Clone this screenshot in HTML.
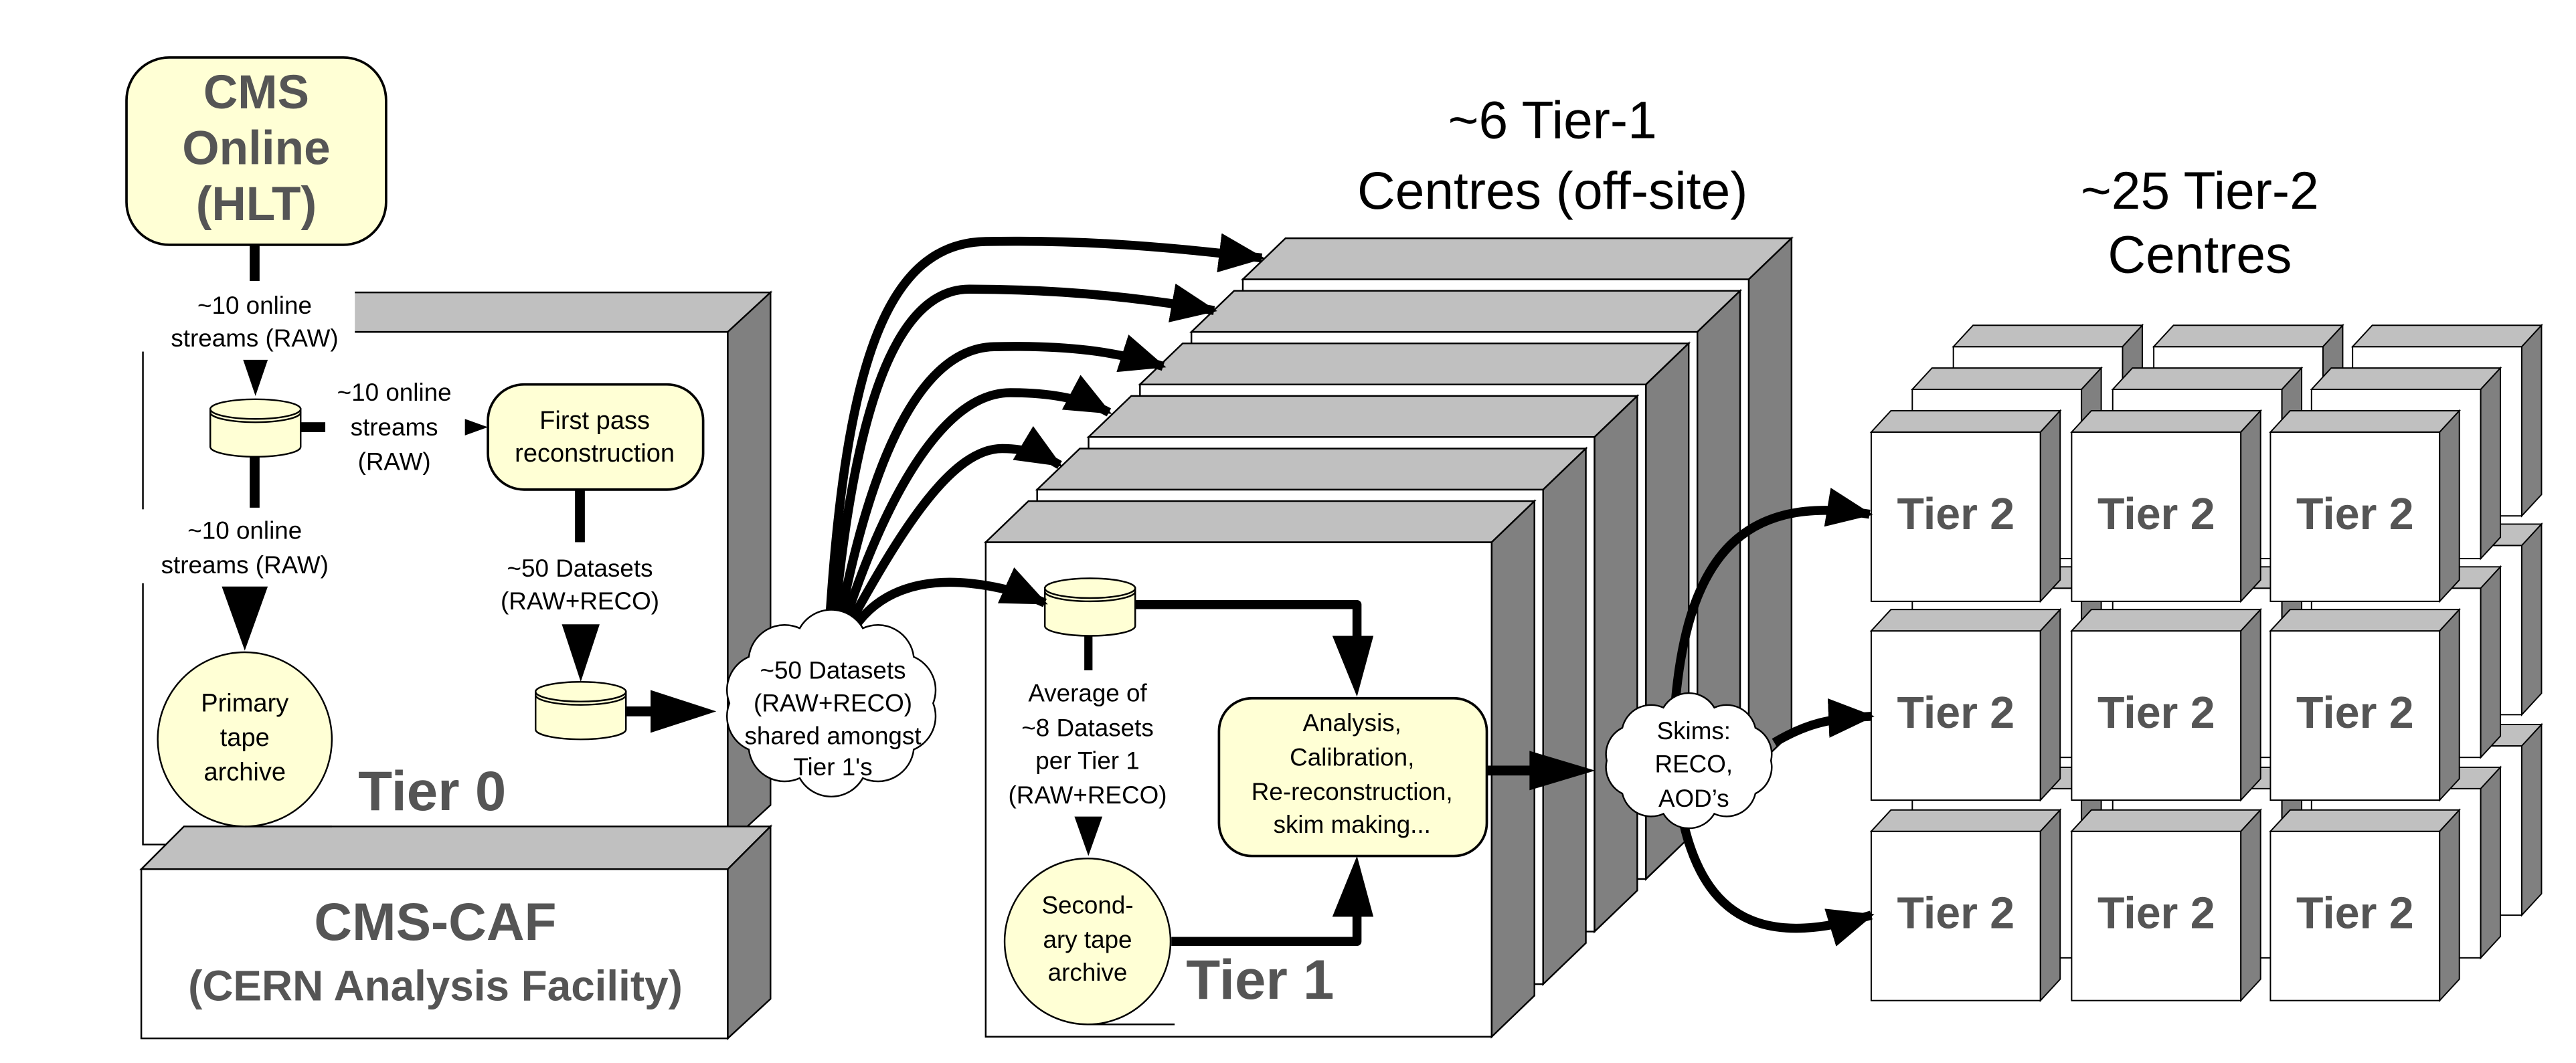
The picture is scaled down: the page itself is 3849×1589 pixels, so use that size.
<!DOCTYPE html>
<html><head><meta charset="utf-8"><style>
html,body{margin:0;padding:0;background:#fff;}
svg{display:block;}
text{font-family:"Liberation Sans",Arial,sans-serif;}
</style></head><body>
<svg xmlns="http://www.w3.org/2000/svg" xmlns:xlink="http://www.w3.org/1999/xlink" width="3849" height="1589" viewBox="0 0 1568 647" preserveAspectRatio="none">
<defs>
<marker id="ah" markerUnits="userSpaceOnUse" markerWidth="30" markerHeight="24" refX="26" refY="12" orient="auto">
<path d="M0,0 L28,12 L0,24 z" fill="#000"/>
</marker>
<g id="t1box" stroke="#000" stroke-width="1">
<rect x="0" y="0" width="308" height="301" fill="#fff"/>
<polygon points="0,0 26,-25 334,-25 308,0" fill="#c0c0c0"/>
<polygon points="308,0 334,-25 334,276 308,301" fill="#808080"/>
</g>
<g id="t2" stroke="#000" stroke-width="0.8">
<rect x="0" y="0" width="103" height="103" fill="#fff"/>
<polygon points="0,0 12,-13 115,-13 103,0" fill="#c0c0c0"/>
<polygon points="103,0 115,-13 115,90 103,103" fill="#808080"/>
</g>
<g id="t2l" stroke="#000" stroke-width="0.8">
<rect x="0" y="0" width="103" height="103" fill="#fff"/>
<polygon points="0,0 12,-13 115,-13 103,0" fill="#c0c0c0"/>
<polygon points="103,0 115,-13 115,90 103,103" fill="#808080"/>
<text x="51.5" y="59" font-size="27" font-weight="bold" fill="#555" text-anchor="middle" stroke="none">Tier 2</text>
</g>
<g id="cyl" stroke="#000" stroke-width="1" fill="#ffffd5">
<path d="M0,6 L0,29 A27.5,6 0 0 0 55,29 L55,6 z"/>
<ellipse cx="27.5" cy="6" rx="27.5" ry="6"/>
<path d="M0,8 A27.5,6 0 0 0 55,8" fill="none"/>
</g>
</defs>

<!-- Tier 0 cube -->
<g stroke="#000" stroke-width="1">
<rect x="87" y="202" width="356" height="312" fill="#fff"/>
<polygon points="87,202 113,178 469,178 443,202" fill="#c0c0c0"/>
<polygon points="443,202 469,178 469,490 443,514" fill="#808080"/>
<rect x="86" y="529" width="357" height="103" fill="#fff"/>
<polygon points="86,529 112,503 469,503 443,529" fill="#c0c0c0"/>
<polygon points="443,529 469,503 469,608 443,632" fill="#808080"/>
</g>
<rect x="80" y="172" width="136" height="42" fill="#fff"/>
<rect x="84" y="310" width="125" height="45" fill="#fff"/>

<!-- CMS Online -->
<rect x="77" y="35" width="158" height="114" rx="26" ry="26" fill="#ffffd5" stroke="#000" stroke-width="1.5"/>
<g font-weight="bold" fill="#555" text-anchor="middle" font-size="29">
<text x="156" y="66">CMS</text>
<text x="156" y="100">Online</text>
<text x="156" y="134">(HLT)</text>
</g>
<rect x="152" y="149" width="6" height="22" fill="#000"/>
<g font-size="15" text-anchor="middle" fill="#000">
<text x="155" y="191">~10 online</text>
<text x="155" y="211">streams (RAW)</text>
</g>
<polygon points="148,219 163,219 155.5,241" fill="#000"/>
<use xlink:href="#cyl" x="128" y="243"/>
<rect x="183" y="257" width="15" height="6" fill="#000"/>
<g font-size="15" text-anchor="middle">
<text x="240" y="244">~10 online</text>
<text x="240" y="265">streams</text>
<text x="240" y="286">(RAW)</text>
</g>
<polygon points="283,255 297,260 283,265" fill="#000"/>
<rect x="297" y="234" width="131" height="64" rx="22" ry="22" fill="#ffffd5" stroke="#000" stroke-width="1.5"/>
<g font-size="15.5" text-anchor="middle">
<text x="362" y="261">First pass</text>
<text x="362" y="281">reconstruction</text>
</g>
<rect x="350" y="298" width="6" height="32" fill="#000"/>
<g font-size="15" text-anchor="middle">
<text x="353" y="351">~50 Datasets</text>
<text x="353" y="371">(RAW+RECO)</text>
</g>
<polygon points="342,380 365,380 353.5,415" fill="#000"/>
<use xlink:href="#cyl" x="326" y="415"/>
<rect x="381" y="430" width="16" height="6" fill="#000"/>
<polygon points="396,420 436,433 396,446" fill="#000"/>
<rect x="152" y="278" width="6" height="31" fill="#000"/>
<g font-size="15" text-anchor="middle">
<text x="149" y="328">~10 online</text>
<text x="149" y="349">streams (RAW)</text>
</g>
<polygon points="135,357 163,357 149,396" fill="#000"/>
<circle cx="149" cy="450" r="53" fill="#ffffd5" stroke="#000" stroke-width="1"/>
<line x1="149" y1="503" x2="202" y2="503" stroke="#000" stroke-width="1"/>
<g font-size="15.5" text-anchor="middle">
<text x="149" y="433">Primary</text>
<text x="149" y="454">tape</text>
<text x="149" y="475">archive</text>
</g>
<text x="218" y="493" font-size="34" font-weight="bold" fill="#555">Tier 0</text>
<g font-weight="bold" fill="#555" text-anchor="middle">
<text x="265" y="572" font-size="32">CMS-CAF</text>
<text x="265" y="609" font-size="26">(CERN Analysis Facility)</text>
</g>

<!-- Tier 1 stack -->
<use xlink:href="#t1box" x="756.5" y="170"/>
<use xlink:href="#t1box" x="725.2" y="202"/>
<use xlink:href="#t1box" x="693.9" y="234"/>
<use xlink:href="#t1box" x="662.6" y="266"/>
<use xlink:href="#t1box" x="631.3" y="298"/>
<use xlink:href="#t1box" x="600" y="330"/>

<g font-size="32" text-anchor="middle">
<text x="945" y="84">~6 Tier-1</text>
<text x="945" y="127">Centres (off-site)</text>
<text x="1339" y="127">~25 Tier-2</text>
<text x="1339" y="166">Centres</text>
</g>

<!-- Tier 1 internals -->
<use xlink:href="#cyl" x="636" y="352"/>
<path d="M691,368 L826,368 L826,390" fill="none" stroke="#000" stroke-width="5.5" stroke-linejoin="round"/>
<polygon points="811,387 836,387 826,424" fill="#000"/>
<rect x="742" y="425" width="163" height="96" rx="20" ry="20" fill="#ffffd5" stroke="#000" stroke-width="1.5"/>
<g font-size="15" text-anchor="middle">
<text x="823" y="445">Analysis,</text>
<text x="823" y="466">Calibration,</text>
<text x="823" y="487">Re-reconstruction,</text>
<text x="823" y="507">skim making...</text>
</g>
<rect x="660" y="387" width="5" height="21" fill="#000"/>
<g font-size="15" text-anchor="middle">
<text x="662" y="427">Average of</text>
<text x="662" y="448">~8 Datasets</text>
<text x="662" y="468">per Tier 1</text>
<text x="662" y="489">(RAW+RECO)</text>
</g>
<polygon points="654,497 671,497 662.5,521" fill="#000"/>
<circle cx="662" cy="573" r="50.5" fill="#ffffd5" stroke="#000" stroke-width="1"/>
<line x1="662" y1="623.5" x2="715" y2="623.5" stroke="#000" stroke-width="1"/>
<g font-size="15" text-anchor="middle">
<text x="662" y="556">Second-</text>
<text x="662" y="577">ary tape</text>
<text x="662" y="597">archive</text>
</g>
<path d="M713,573 L826,573 L826,555" fill="none" stroke="#000" stroke-width="5.5" stroke-linejoin="round"/>
<polygon points="811,558 836,558 826,521" fill="#000"/>
<text x="722" y="608" font-size="34" font-weight="bold" fill="#555">Tier 1</text>
<rect x="905" y="466" width="28" height="6" fill="#000"/>
<polygon points="931,457 971,469 931,481" fill="#000"/>

<!-- Tier 2 grid -->
<g>
<use xlink:href="#t2" x="1189" y="211"/><use xlink:href="#t2" x="1311" y="211"/><use xlink:href="#t2" x="1432" y="211"/>
<use xlink:href="#t2" x="1189" y="332"/><use xlink:href="#t2" x="1311" y="332"/><use xlink:href="#t2" x="1432" y="332"/>
<use xlink:href="#t2" x="1189" y="454"/><use xlink:href="#t2" x="1311" y="454"/><use xlink:href="#t2" x="1432" y="454"/>
<use xlink:href="#t2" x="1164" y="237"/><use xlink:href="#t2" x="1286" y="237"/><use xlink:href="#t2" x="1407" y="237"/>
<use xlink:href="#t2" x="1164" y="358"/><use xlink:href="#t2" x="1286" y="358"/><use xlink:href="#t2" x="1407" y="358"/>
<use xlink:href="#t2" x="1164" y="480"/><use xlink:href="#t2" x="1286" y="480"/><use xlink:href="#t2" x="1407" y="480"/>
<use xlink:href="#t2l" x="1139" y="263"/><use xlink:href="#t2l" x="1261" y="263"/><use xlink:href="#t2l" x="1382" y="263"/>
<use xlink:href="#t2l" x="1139" y="384"/><use xlink:href="#t2l" x="1261" y="384"/><use xlink:href="#t2l" x="1382" y="384"/>
<use xlink:href="#t2l" x="1139" y="506"/><use xlink:href="#t2l" x="1261" y="506"/><use xlink:href="#t2l" x="1382" y="506"/>
</g>

<!-- curved arrows from cloud 1 -->
<g fill="none" stroke="#000" stroke-width="5.5" marker-end="url(#ah)">
<path d="M505,378 C515,220 540,148 600,147 C660,146 710,150 768,157"/>
<path d="M508,378 C520,250 545,176 590,176 C650,176 700,182 739,189"/>
<path d="M511,379 C530,280 560,212 605,211 C650,210 680,214 708,223"/>
<path d="M514,379 C540,300 575,239 615,239 C640,239 660,243 675,251"/>
<path d="M517,380 C550,320 580,273 610,273 C625,273 635,277 645,283"/>
<path d="M520,382 C535,360 560,352 590,355 C610,357 625,362 636,367"/>
<path d="M1020,425 C1028,340 1060,300 1138,313"/>
<path d="M1080,452 C1100,440 1115,437 1139,436"/>
<path d="M1025,502 C1040,565 1080,575 1139,557"/>
</g>

<!-- cloud 1 -->
<path d="M568,428 A22,22 0 0 1 556.2,456.2 A22,22 0 0 1 525.2,473.6 A22,22 0 0 1 486.8,473.6 A22,22 0 0 1 455.8,456.2 A22,22 0 0 1 444,428 A22,22 0 0 1 455.8,399.8 A22,22 0 0 1 486.8,382.4 A22,22 0 0 1 525.2,382.4 A22,22 0 0 1 556.2,399.8 A22,22 0 0 1 568,428 z" fill="#fff" stroke="#000" stroke-width="1"/>
<g font-size="15" text-anchor="middle">
<text x="507" y="413">~50 Datasets</text>
<text x="507" y="433">(RAW+RECO)</text>
<text x="507" y="453">shared amongst</text>
<text x="507" y="472">Tier 1's</text>
</g>

<!-- skims cloud -->
<path d="M1078,463 A18,18 0 0 1 1068.5,483 A18,18 0 0 1 1043.5,495.3 A18,18 0 0 1 1012.5,495.3 A18,18 0 0 1 987.5,483 A18,18 0 0 1 978,463 A18,18 0 0 1 987.5,443 A18,18 0 0 1 1012.5,430.7 A18,18 0 0 1 1043.5,430.7 A18,18 0 0 1 1068.5,443 A18,18 0 0 1 1078,463 z" fill="#fff" stroke="#000" stroke-width="1"/>
<g font-size="15" text-anchor="middle">
<text x="1031" y="450">Skims:</text>
<text x="1031" y="470">RECO,</text>
<text x="1031" y="491">AOD’s</text>
</g>
</svg>
</body></html>
